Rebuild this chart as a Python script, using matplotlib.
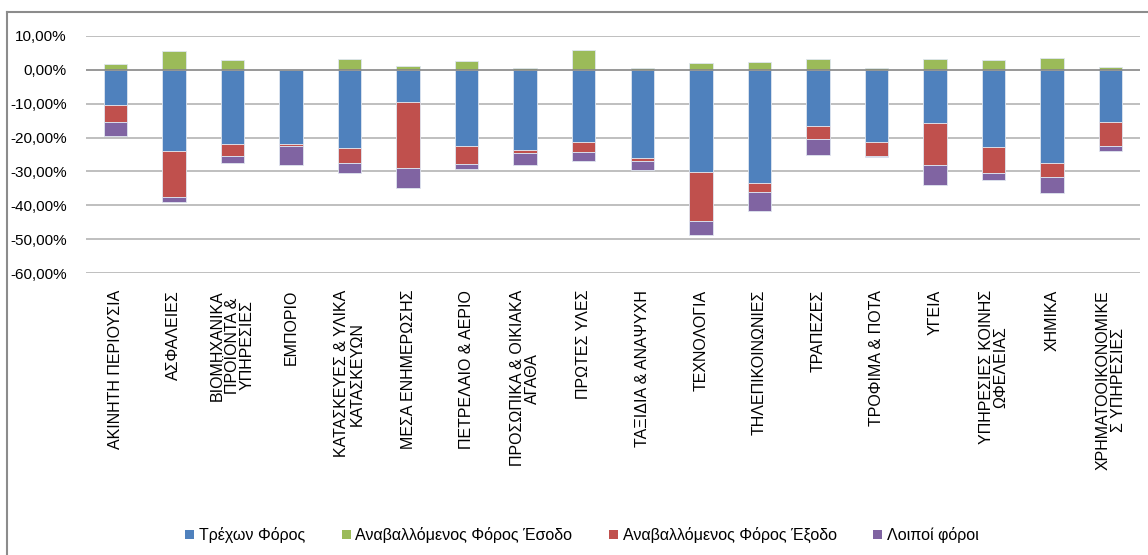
import matplotlib
matplotlib.use("Agg")
import matplotlib.pyplot as plt
import numpy as np
from matplotlib.lines import Line2D
from matplotlib.patches import Patch
from matplotlib.ticker import FuncFormatter


categories = [
    "ΑΚΙΝΗΤΗ ΠΕΡΙΟΥΣΙΑ",
    "ΑΣΦΑΛΕΙΕΣ",
    "ΒΙΟΜΗΧΑΝΙΚΑ\nΠΡΟΪΟΝΤΑ &\nΥΠΗΡΕΣΙΕΣ",
    "ΕΜΠΟΡΙΟ",
    "ΚΑΤΑΣΚΕΥΕΣ & ΥΛΙΚΑ\nΚΑΤΑΣΚΕΥΩΝ",
    "ΜΕΣΑ ΕΝΗΜΕΡΩΣΗΣ",
    "ΠΕΤΡΕΛΑΙΟ & ΑΕΡΙΟ",
    "ΠΡΟΣΩΠΙΚΑ & ΟΙΚΙΑΚΑ\nΑΓΑΘΑ",
    "ΠΡΩΤΕΣ ΥΛΕΣ",
    "ΤΑΞΙΔΙΑ & ΑΝΑΨΥΧΗ",
    "ΤΕΧΝΟΛΟΓΙΑ",
    "ΤΗΛΕΠΙΚΟΙΝΩΝΙΕΣ",
    "ΤΡΑΠΕΖΕΣ",
    "ΤΡΟΦΙΜΑ & ΠΟΤΑ",
    "ΥΓΕΙΑ",
    "ΥΠΗΡΕΣΙΕΣ ΚΟΙΝΗΣ\nΩΦΕΛΕΙΑΣ",
    "ΧΗΜΙΚΑ",
    "ΧΡΗΜΑΤΟΟΙΚΟΝΟΜΙΚΕ\nΣ ΥΠΗΡΕΣΙΕΣ",
]

series_names = [
    "Τρέχων Φόρος",
    "Αναβαλλόμενος Φόρος Έσοδο",
    "Αναβαλλόμενος Φόρος Έξοδο",
    "Λοιποί φόροι",
]

# values in percent
current_tax = [-10.4, -24.1, -22.0, -22.0, -23.0, -9.4, -22.4, -23.8, -21.2,
               -25.9, -30.2, -33.5, -16.6, -21.4, -15.7, -22.9, -27.4, -15.4]
deferred_income = [1.6, 5.6, 2.8, 0.0, 3.1, 1.0, 2.5, 0.4, 5.8,
                   0.4, 1.9, 2.2, 3.1, 0.4, 3.1, 2.8, 3.4, 0.7]
deferred_expense = [-5.0, -13.5, -3.3, -0.6, -4.5, -19.6, -5.4, -0.9, -3.0,
                    -0.9, -14.3, -2.5, -3.9, -4.0, -12.3, -7.5, -4.2, -7.2]
other_taxes = [-4.2, -1.4, -2.1, -5.4, -2.9, -5.9, -1.4, -3.3, -2.8,
               -2.7, -4.1, -5.7, -4.5, -0.2, -5.9, -2.0, -4.7, -1.5]

yticks = [10, 0, -10, -20, -30, -40, -50, -60]

colors = ["#4F81BD", "#9BBB59", "#C0504D", "#8064A2"]

plt.rcParams["font.family"] = ["Liberation Sans", "DejaVu Sans"]

fig = plt.figure(figsize=(11.48, 5.55), dpi=100)
ax = fig.add_axes([86 / 1148, 1 - 273.3 / 555, (1140 - 86) / 1148, (273.3 - 35.7) / 555])

x = np.arange(len(categories))
cur = np.array(current_tax)
dexp = np.array(deferred_expense)
oth = np.array(other_taxes)
w = 0.4
edge = dict(edgecolor="#dfe6f0", linewidth=0.6)

ax.bar(x, cur, w, color=colors[0], **edge, zorder=3)
ax.bar(x, deferred_income, w, color=colors[1], **edge, zorder=3)
ax.bar(x, dexp, w, bottom=cur, color=colors[2], **edge, zorder=3)
ax.bar(x, oth, w, bottom=cur + dexp, color=colors[3], **edge, zorder=3)

ax.set_xlim(-0.5, len(categories) - 0.5)
ax.set_ylim(-60, 10)
ax.set_yticks(yticks)
ax.yaxis.set_major_formatter(FuncFormatter(lambda v, p: f"{v:.2f}%".replace(".", ",")))
for t in yticks:
    ax.axhline(t, color="#868686" if t == 0 else "#b4b4b4", lw=1.2, zorder=1 if t else 4)

ax.set_xticks(x)
ax.set_xticklabels(categories, rotation=90, va="top", ha="center",
                   multialignment="center", fontsize=11.5, linespacing=1.0)
ax.tick_params(axis="both", length=0)
ax.tick_params(axis="x", pad=12)
ax.tick_params(axis="y", pad=14, labelsize=11)
for s in ax.spines.values():
    s.set_visible(False)

# chart area border (left and top only)
fig.add_artist(Line2D([7 / 1148, 7 / 1148], [0, 1 - 12 / 555], color="#8c8c8c", lw=1.5))
fig.add_artist(Line2D([7 / 1148, 1], [1 - 12 / 555, 1 - 12 / 555], color="#8c8c8c", lw=1.5))

handles = [Patch(facecolor=c, edgecolor="none") for c in colors]
fig.legend(handles, series_names, loc="center", bbox_to_anchor=(0.507, 1 - 535 / 555),
           ncol=4, frameon=False, fontsize=11.5, handlelength=0.55, handleheight=0.55,
           handletextpad=0.3, columnspacing=2.3)

fig.savefig("out.png", dpi=100)
